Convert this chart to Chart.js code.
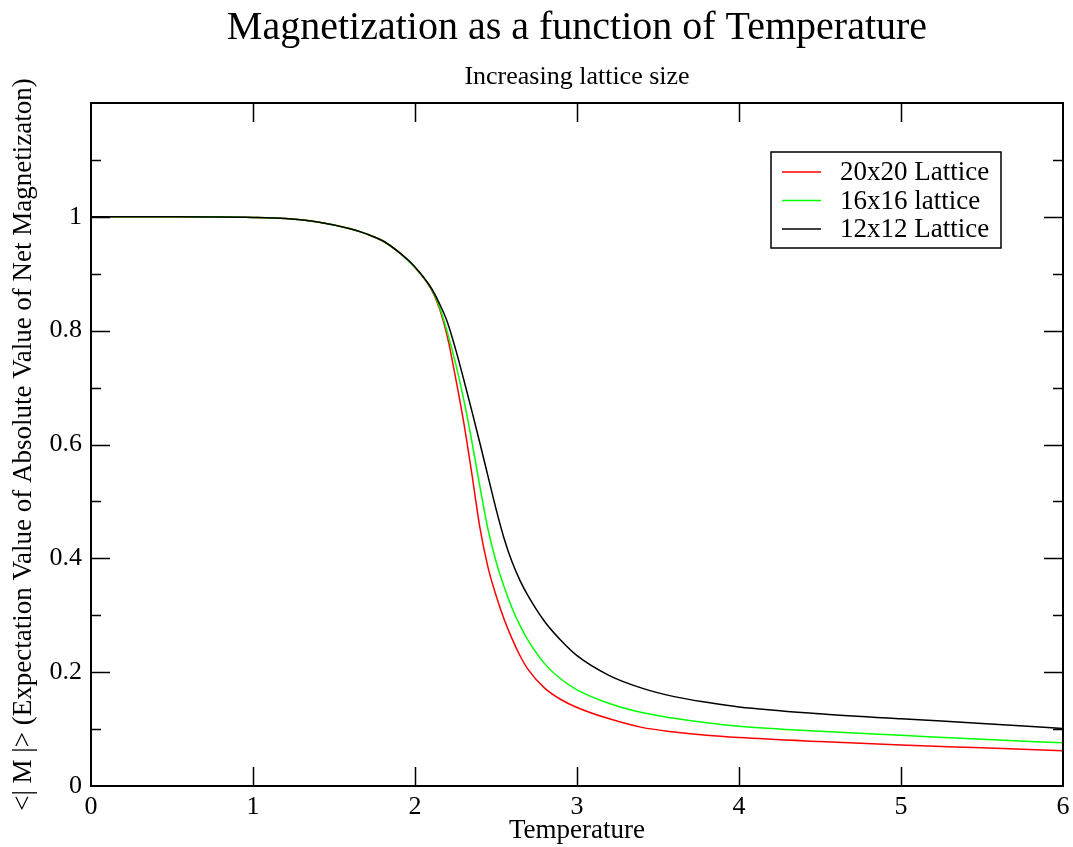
<!DOCTYPE html>
<html>
<head>
<meta charset="utf-8">
<title>Magnetization as a function of Temperature</title>
<script src="https://cdn.jsdelivr.net/npm/chart.js@4"></script>
<style>
  html, body { margin: 0; padding: 0; background: #fff; }
  canvas { display: block; }
</style>
</head>
<body>
<canvas id="magChart" width="1073" height="847"></canvas>
<script>
// temperature points
const temps = [0, 0.5, 1.0, 1.2, 1.4, 1.6, 1.7, 1.8, 1.9, 2.0, 2.1, 2.15, 2.2, 2.25, 2.3, 2.35, 2.4, 2.45, 2.5, 2.55, 2.6, 2.65, 2.7, 2.8, 2.9, 3.0, 3.2, 3.4, 3.6, 3.8, 4.0, 4.5, 5.0, 5.5, 6.0];

// <|M|> for each lattice size
const lattice20 = [1, 1, 0.999, 0.997, 0.991, 0.979, 0.97, 0.958, 0.938, 0.911, 0.873, 0.84, 0.789, 0.718, 0.64, 0.55, 0.455, 0.385, 0.335, 0.293, 0.258, 0.228, 0.204, 0.172, 0.152, 0.138, 0.118, 0.103, 0.095, 0.089, 0.085, 0.078, 0.072, 0.067, 0.062];
const lattice16 = [1, 1, 0.999, 0.997, 0.991, 0.979, 0.97, 0.958, 0.938, 0.911, 0.874, 0.843, 0.797, 0.743, 0.68, 0.607, 0.527, 0.452, 0.395, 0.35, 0.312, 0.281, 0.255, 0.215, 0.188, 0.169, 0.145, 0.129, 0.119, 0.111, 0.105, 0.096, 0.089, 0.082, 0.076];
const lattice12 = [1, 1, 0.999, 0.997, 0.991, 0.979, 0.97, 0.958, 0.938, 0.912, 0.875, 0.848, 0.815, 0.768, 0.715, 0.66, 0.603, 0.545, 0.487, 0.435, 0.393, 0.36, 0.333, 0.289, 0.256, 0.229, 0.194, 0.172, 0.157, 0.147, 0.139, 0.127, 0.118, 0.11, 0.101];

const seriesLabels = ["20x20 Lattice", "16x16 lattice", "12x12 Lattice"];
const seriesColors = ["#ff0000", "#00ff00", "#000000"];
const xTicks = [0, 1, 2, 3, 4, 5, 6];
const yTicks = [0, 0.2, 0.4, 0.6, 0.8, 1];

const serif = "'Liberation Serif', 'Times New Roman', serif";

function toPoints(values) {
  return temps.map((t, i) => ({ x: t, y: values[i] }));
}

// grace-style frame: border, inward ticks on all four sides, boxed legend
const frameAndLegend = {
  id: "frameAndLegend",
  afterDatasetsDraw(chart) {
    const { ctx, chartArea: a, scales } = chart;
    const xs = scales.x, ys = scales.y;
    ctx.save();
    ctx.strokeStyle = "#000";
    ctx.lineWidth = 1.5;
    ctx.beginPath();
    // x major ticks
    for (let v = 1; v < 6; v++) {
      const px = Math.round(xs.getPixelForValue(v)) + 0.5;
      ctx.moveTo(px, a.bottom); ctx.lineTo(px, a.bottom - 19);
      ctx.moveTo(px, a.top); ctx.lineTo(px, a.top + 19);
    }
    // y ticks, major every 0.2, minor every 0.1
    for (let k = 1; k < 12; k++) {
      const py = Math.round(ys.getPixelForValue(k / 10)) + 0.5;
      const len = k % 2 === 0 ? 19 : 10;
      ctx.moveTo(a.left, py); ctx.lineTo(a.left + len, py);
      ctx.moveTo(a.right, py); ctx.lineTo(a.right - len, py);
    }
    ctx.stroke();
    ctx.lineWidth = 2;
    ctx.strokeRect(a.left, a.top, a.right - a.left, a.bottom - a.top);

    // legend box
    const bx = a.right - 292, by = a.top + 49, bw = 230, bh = 96;
    ctx.fillStyle = "#fff";
    ctx.fillRect(bx, by, bw, bh);
    ctx.lineWidth = 1.5;
    ctx.strokeRect(bx, by, bw, bh);
    ctx.font = "27px " + serif;
    ctx.textBaseline = "middle";
    ctx.textAlign = "left";
    seriesLabels.forEach((label, i) => {
      const ry = by + 20 + i * 28.5;
      ctx.strokeStyle = seriesColors[i];
      ctx.lineWidth = 1.5;
      ctx.beginPath();
      ctx.moveTo(bx + 11, ry); ctx.lineTo(bx + 50, ry);
      ctx.stroke();
      ctx.fillStyle = "#000";
      ctx.fillText(label, bx + 69, ry + 1);
    });
    ctx.restore();
  }
};

const config = {
  type: "line",
  data: {
    datasets: [lattice20, lattice16, lattice12].map((vals, i) => ({
      label: seriesLabels[i],
      data: toPoints(vals),
      borderColor: seriesColors[i],
      backgroundColor: seriesColors[i],
      borderWidth: 1.5,
      pointRadius: 0,
      cubicInterpolationMode: "monotone",
      fill: false,
      order: 2 - i, // 12x12 drawn on top
    })),
  },
  options: {
    responsive: false,
    animation: false,
    devicePixelRatio: 1,
    layout: { padding: { left: 0, right: 10, top: 0, bottom: 0 } },
    plugins: {
      legend: { display: false },
      tooltip: { enabled: false },
      title: {
        display: true,
        text: "Magnetization as a function of Temperature",
        color: "#000",
        fullSize: false,
        font: { family: serif, size: 40, weight: "normal" },
        padding: { top: 4, bottom: 0 },
      },
      subtitle: {
        display: true,
        text: "Increasing lattice size",
        color: "#000",
        fullSize: false,
        font: { family: serif, size: 26, weight: "normal" },
        padding: { top: 9.6, bottom: 10.2 },
      },
    },
    scales: {
      x: {
        type: "linear",
        min: 0,
        max: 6,
        afterFit: (s) => {
          s.height = 61;
          s.paddingLeft = 0;
          s.paddingRight = 0;
        },
        afterBuildTicks: (s) => { s.ticks = xTicks.map((v) => ({ value: v })); },
        grid: { display: false, drawTicks: false },
        border: { display: false },
        ticks: { color: "#000", padding: 6, font: { family: serif, size: 26 } },
        title: {
          display: true,
          text: "Temperature",
          color: "#000",
          font: { family: serif, size: 27 },
          padding: { top: 2.9, bottom: 0 },
        },
      },
      y: {
        min: 0,
        max: 1.2,
        afterFit: (s) => { s.width = 91; },
        afterBuildTicks: (s) => { s.ticks = yTicks.map((v) => ({ value: v })); },
        grid: { display: false, drawTicks: false },
        border: { display: false },
        ticks: {
          color: "#000",
          padding: 9,
          font: { family: serif, size: 26 },
          callback: (v) => String(Math.round(v * 10) / 10),
        },
        title: {
          display: true,
          text: "<| M |> (Expectation Value of Absolute Value of Net Magnetizaton)",
          color: "#000",
          font: { family: serif, size: 27 },
          padding: { top: 7.8, bottom: 0 },
        },
      },
    },
  },
  plugins: [frameAndLegend],
};

const magChart = new Chart(document.getElementById("magChart"), config);
</script>
</body>
</html>
